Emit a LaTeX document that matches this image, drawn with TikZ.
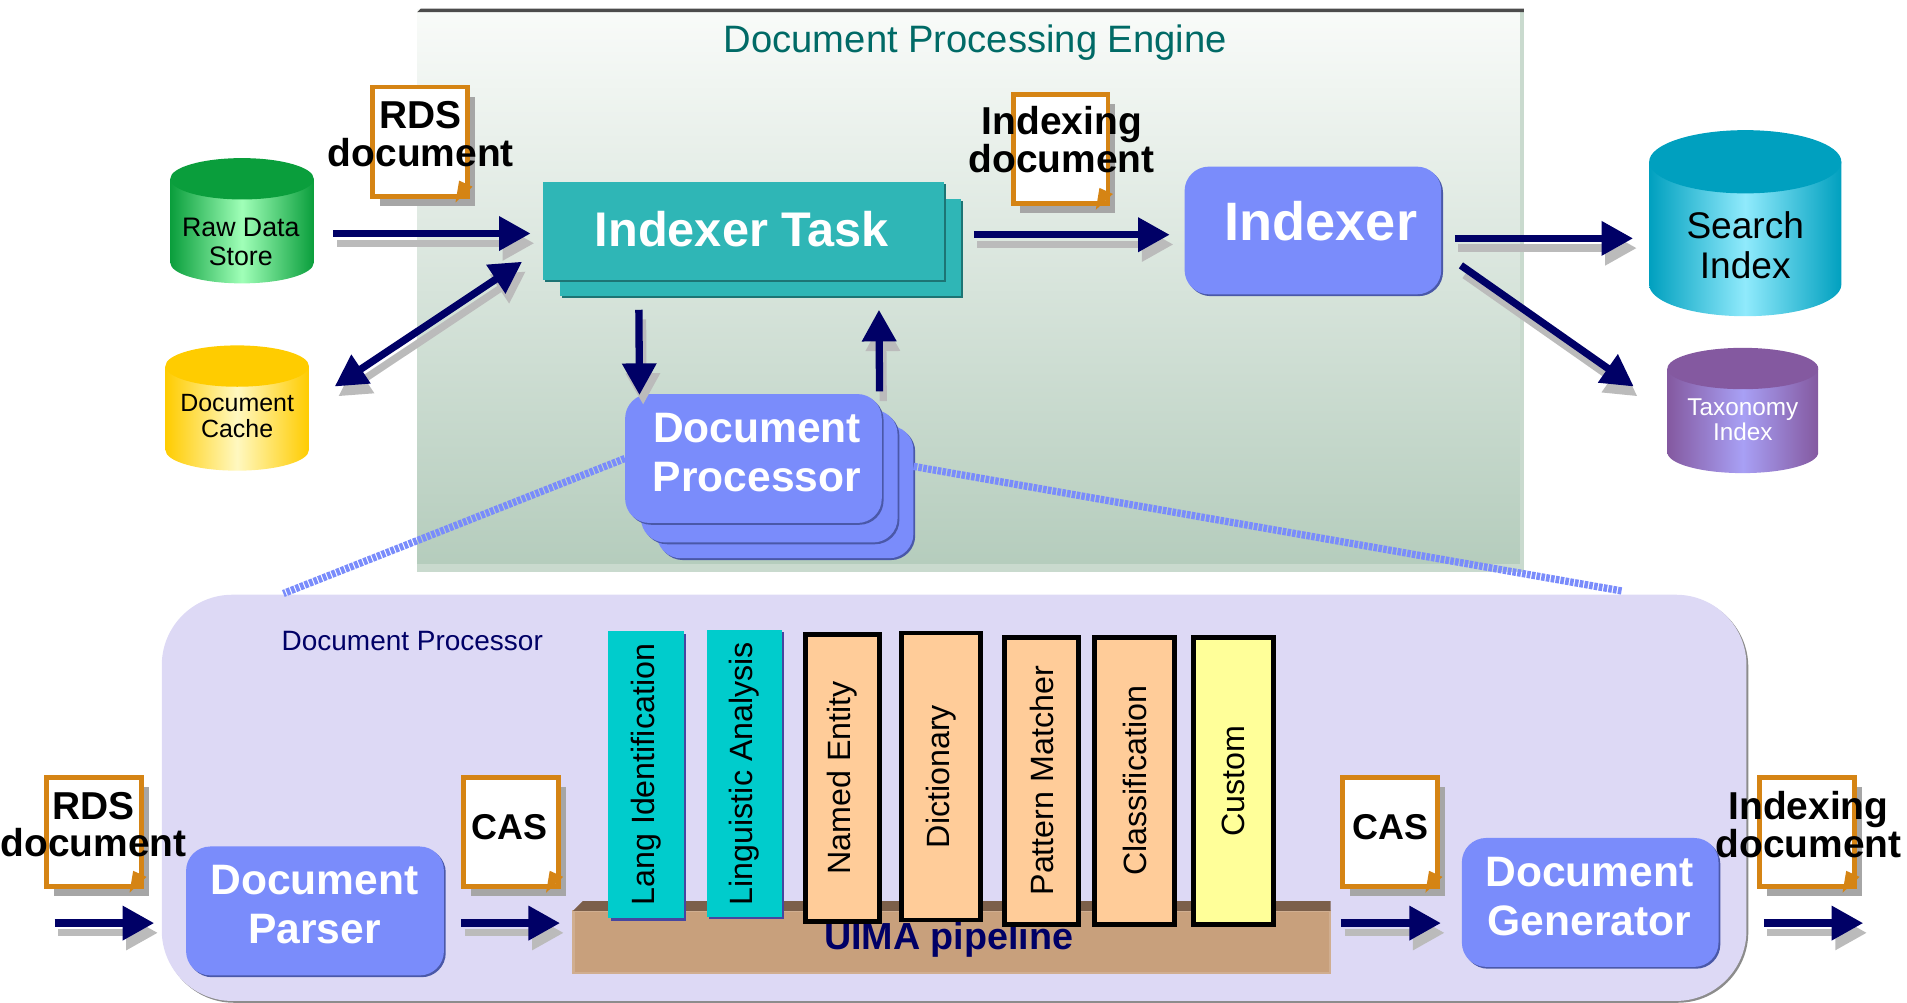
\documentclass[tikz,border=0pt]{standalone}
\usepackage{fontspec}
\setmainfont{Liberation Sans}
\usetikzlibrary{arrows.meta,shadows}
\definecolor{enginetop}{HTML}{F9FBF9}
\definecolor{enginemid}{HTML}{DEE8E2}
\definecolor{enginebot}{HTML}{B4CCBC}
\definecolor{engineedge}{HTML}{C9DACE}
\definecolor{enginetitle}{HTML}{006A66}
\definecolor{panelfill}{HTML}{DDD9F5}
\definecolor{taskteal}{HTML}{2FB6B6}
\definecolor{taskedge}{HTML}{1D7474}
\definecolor{boxblue}{HTML}{7A8CFB}
\definecolor{boxedge}{HTML}{4A58A8}
\definecolor{flownavy}{HTML}{000066}
\definecolor{flowgray}{HTML}{BBBBBB}
\definecolor{paperedge}{HTML}{D58414}
\definecolor{basetan}{HTML}{C8A07C}
\definecolor{basetop}{HTML}{7C5F4A}
\definecolor{annotcyan}{HTML}{00CCCC}
\definecolor{annotorange}{HTML}{FFCC99}
\definecolor{annotyellow}{HTML}{FFFF99}
\definecolor{annotedge}{HTML}{4646A0}
\definecolor{rawdark}{HTML}{0A9E3C}
\definecolor{rawlight}{HTML}{A0FFB8}
\definecolor{cachedark}{HTML}{FFCC00}
\definecolor{cachelight}{HTML}{FFF8C0}
\definecolor{searchdark}{HTML}{00A0BF}
\definecolor{searchlight}{HTML}{90EAFC}
\definecolor{taxdark}{HTML}{8459A0}
\definecolor{taxlight}{HTML}{A8A0F5}
\tikzset{
	flow/.style={line width=6pt,flownavy,>={Triangle[length=26pt,width=27pt]}},
	flowshadow/.style={line width=6pt,flowgray,>={Triangle[length=26pt,width=27pt]},transform canvas={shift={(3pt,-8pt)}}},
	paper/.style={draw=paperedge,fill=white,line width=4pt,inner sep=0pt,minimum width=78pt,minimum height=90pt,
		drop shadow={shadow xshift=6pt,shadow yshift=-8pt,fill=black!35,opacity=1}},
	papertext/.style={font=\fontsize{32}{31}\selectfont\bfseries,align=center,inner sep=0pt},
	tealbox/.style={fill=taskteal,inner sep=0pt,minimum width=330pt,minimum height=80pt,
		drop shadow={shadow xshift=1.5pt,shadow yshift=-1.5pt,fill=taskedge,opacity=1}},
	bluebox/.style={fill=boxblue,rounded corners=20pt,inner sep=0pt,
		drop shadow={shadow xshift=1.5pt,shadow yshift=-1.5pt,fill=boxedge,opacity=1}},
	bluetext/.style={text=white,align=center,inner sep=0pt,font=\fontsize{35}{40}\selectfont\bfseries},
	storetext/.style={align=center,inner sep=0pt,minimum height=50pt},
	annot/.style={inner sep=0pt,minimum height=236pt,font=\fontsize{26.5}{30}\selectfont,
		drop shadow={shadow xshift=2pt,shadow yshift=-2pt,fill=annotedge,opacity=1}},
	annotline/.style={annot,draw=black,line width=4pt},
	dotline/.style={boxblue,line width=6pt,dash pattern=on 3pt off 1pt}
}
% cx, top, half width, ry, body height, side colour, light colour
\newcommand{\cyl}[7]{
	\shade[left color=#6,right color=#6,middle color=#7] (#1,#2) ++(-#3,#4) -- ++(0,#5) arc[start angle=180,end angle=0,x radius=#3,y radius=#4] -- ++(0,-#5) -- cycle;
	\fill[#6] (#1,#2) ++(0,#4) ellipse[x radius=#3,y radius=#4];
}
\newcommand{\flow}[3][->]{
	\draw[flowshadow,#1] #2 -- #3;
	\draw[flow,#1] #2 -- #3;
}
\newcommand{\fold}[1]{
	\fill[paperedge] ([shift={(-12pt,-3pt)}]#1.south east) -- ([shift={(-9pt,15pt)}]#1.south east) -- ([shift={(2pt,10pt)}]#1.south east) -- cycle;
}
\begin{document}
\begin{tikzpicture}[x=1pt,y=-1pt]
	\useasboundingbox (0,0) rectangle (1568,824);
	% engine panel
	\node (engine) [top color=enginetop,middle color=enginemid,bottom color=enginebot,inner sep=0pt,minimum width=910pt,minimum height=462pt] at (798,239) {};
	\fill[engineedge] (343,464) rectangle (1253,470);
	\fill[engineedge] (1250,10) rectangle (1253,470);
	\fill[black!70] (343,10) -- (346,7) -- (1253,7) -- (1253,10) -- cycle;
	\node (enginetitle) [text=enginetitle,inner sep=0pt,font=\fontsize{31.4}{36}\selectfont] at (802,35) {Document Processing Engine};
	% lower panel
	\node (procpanel) [fill=panelfill,rounded corners=58pt,inner sep=0pt,minimum width=1303pt,minimum height=334pt,
		drop shadow={shadow xshift=1.5pt,shadow yshift=-1.5pt,fill=black!45,opacity=1}] at (784.5,656) {};
	\node (procpaneltext) [text=flownavy,inner sep=0pt,font=\fontsize{23}{27}\selectfont] at (339,527) {Document Processor};
	% stores
	\cyl{199}{130}{59}{17}{69}{rawdark}{rawlight}
	\node (rawstore) [storetext,minimum width=118pt,font=\fontsize{22}{24}\selectfont] at (198,199) {Raw Data\\Store};
	\cyl{195}{284}{59}{17}{69}{cachedark}{cachelight}
	\node (cache) [storetext,minimum width=118pt,font=\fontsize{20.5}{22}\selectfont] at (195,342) {Document\\Cache};
	\cyl{1435}{107}{79}{26}{101}{searchdark}{searchlight}
	\node (search) [storetext,minimum width=158pt,font=\fontsize{30.5}{33}\selectfont] at (1435,202) {Search\\Index};
	\cyl{1433}{286}{62}{17}{69}{taxdark}{taxlight}
	\node (taxonomy) [storetext,minimum width=125pt,text=white,font=\fontsize{20}{20}\selectfont] at (1433,345) {Taxonomy\\Index};
	% dotted zoom lines
	\node (procback) [bluebox,minimum width=211pt,minimum height=109pt] at (645.5,404.5) {};
	\node (procmid) [bluebox,minimum width=211pt,minimum height=109pt] at (632.5,391.5) {};
	\node (procfront) [bluebox,minimum width=211pt,minimum height=106pt] at (619.5,377) {};
	\node (procfronttext) [bluetext] at (622.5,372) {Document\\Processor};
	\coordinate (zoomleft) at (233,488);
	\coordinate (zoomright) at (1334,486);
	\draw[dotline] (procfront.west) -- (zoomleft);
	\draw[dotline] ([yshift=21pt]procback.east) -- (zoomright);
	% top row
	\node (taskback) [tealbox] at (625.5,203.5) {};
	\node (taskfront) [tealbox] at (611.5,190) {};
	\node (tasktext) [text=white,inner sep=0pt,font=\fontsize{40}{45}\selectfont\bfseries] at (610,188) {Indexer Task};
	\node (indexer) [bluebox,minimum width=211pt,minimum height=105pt] at (1079.5,189.5) {};
	\node (indexertext) [text=white,inner sep=0pt,font=\fontsize{44.5}{50}\selectfont\bfseries] at (1086,182) {Indexer};
	\node (rdspaper) [paper] at (345.5,116.5) {};
	\fold{rdspaper}
	\node (rdstext) [papertext] at (346,110) {RDS\\document};
	\node (idxpaper) [paper] at (872,122.5) {};
	\fold{idxpaper}
	\node (idxtext) [papertext] at (873,115) {Indexing\\document};
	\flow{([xshift=17pt,yshift=7pt]rawstore.east)}{([xshift=-10pt,yshift=-2pt]taskfront.west)}
	\flow[<->]{([xshift=21pt,yshift=-1pt]cache.north east)}{([xshift=-17pt,yshift=15pt]taskfront.south west)}
	\flow{([xshift=65pt,yshift=-11pt]taskback.south west)}{([xshift=12pt,yshift=-1pt]procfront.north west)}
	\flow{([xshift=-2pt,yshift=2pt]procfront.north east)}{([xshift=-68pt,yshift=-11pt]taskback.south east)}
	\flow{([xshift=10pt,yshift=10.5pt]taskback.east)}{([xshift=-12pt,yshift=-3.5pt]indexer.west)}
	\flow{([xshift=11pt,yshift=-6.5pt]indexer.east)}{([xshift=-13pt,yshift=6pt]search.west)}
	\flow{([xshift=16pt,yshift=24pt]indexer.south east)}{([xshift=-27pt,yshift=2pt]taxonomy.north west)}
	% pipeline
	\node (uima) [fill=basetan,draw=basetan!85!white,line width=2pt,inner sep=0pt,minimum width=622pt,minimum height=51pt] at (782.5,774.5) {};
	\fill[basetop] (471,749) -- (479,741) -- (1094,741) -- (1094,749) -- cycle;
	\node (uimatext) [text=flownavy,inner sep=0pt,font=\fontsize{31}{36}\selectfont\bfseries] at (780,773) {UIMA pipeline};
	\node (langid) [annot,fill=annotcyan,minimum width=62pt] at (531,637) {\rotatebox{90}{Lang Identification}};
	\node (lingan) [annot,fill=annotcyan,minimum width=62pt] at (612,636) {\rotatebox{90}{Linguistic Analysis}};
	\node (namedent) [annotline,fill=annotorange,minimum width=61pt] at (692.5,639.5) {\rotatebox{90}{Named Entity}};
	\node (dictionary) [annotline,fill=annotorange,minimum width=65pt] at (773.5,638.5) {\rotatebox{90}{Dictionary}};
	\node (pattern) [annotline,fill=annotorange,minimum width=61pt] at (856.5,642) {\rotatebox{90}{Pattern Matcher}};
	\node (classif) [annotline,fill=annotorange,minimum width=66pt] at (933,642) {\rotatebox{90}{Classification}};
	\node (custom) [annotline,fill=annotyellow,minimum width=66pt] at (1014,642) {\rotatebox{90}{Custom}};
	% parser and generator
	\node (parser) [bluebox,minimum width=212pt,minimum height=106pt] at (259,749) {};
	\node (parsertext) [bluetext] at (258.5,744) {Document\\Parser};
	\node (generator) [bluebox,minimum width=211pt,minimum height=106pt] at (1307.5,742) {};
	\node (generatortext) [bluetext] at (1307,737) {Document\\Generator};
	\node (rdsin) [paper] at (77.5,684) {};
	\fold{rdsin}
	\node (rdsintext) [papertext] at (77,678) {RDS\\document};
	\node (casin) [paper] at (420,684) {};
	\fold{casin}
	\node (casintext) [papertext,font=\fontsize{29.5}{32}\selectfont\bfseries] at (419,680) {CAS};
	\node (casout) [paper] at (1143,684) {};
	\fold{casout}
	\node (casouttext) [papertext,font=\fontsize{29.5}{32}\selectfont\bfseries] at (1143,680) {CAS};
	\node (idxout) [paper] at (1486,684) {};
	\fold{idxout}
	\node (idxouttext) [papertext] at (1487,678) {Indexing\\document};
	\coordinate (flowstart) at (45,759);
	\coordinate (flowend) at (1532,759);
	\flow{(flowstart)}{([xshift=-26pt,yshift=-10pt]parser.west)}
	\flow{([xshift=14pt,yshift=-10pt]parser.east)}{([xshift=-10pt,yshift=15.5pt]uima.west)}
	\flow{([xshift=8pt,yshift=15.5pt]uima.east)}{([xshift=-17pt,yshift=-17pt]generator.west)}
	\flow{([xshift=37pt,yshift=-17pt]generator.east)}{(flowend)}
\end{tikzpicture}
\end{document}
